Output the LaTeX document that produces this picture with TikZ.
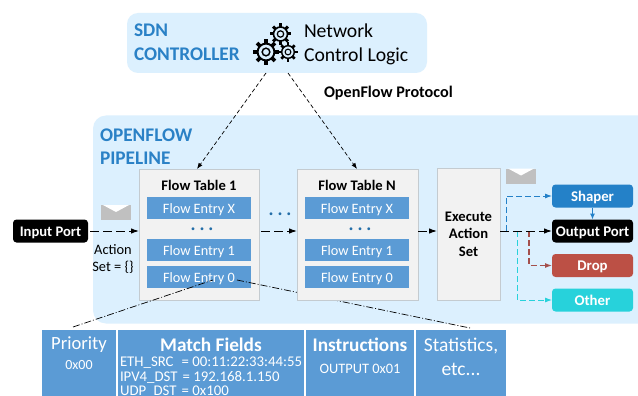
\documentclass[tikz,border=0pt]{standalone}
\usepackage{fontspec}
\setmainfont{Carlito}
\usetikzlibrary{arrows.meta}
\definecolor{panel}{HTML}{DCF0FE}
\definecolor{headblue}{HTML}{2A81C6}
\definecolor{entry}{HTML}{5B9BD5}
\definecolor{tablefill}{HTML}{F2F2F2}
\definecolor{tableline}{HTML}{C4CBD0}
\definecolor{shaperc}{HTML}{2481C8}
\definecolor{dropc}{HTML}{BC5045}
\definecolor{otherc}{HTML}{27D2DB}
\definecolor{dropline}{HTML}{A4504C}
\definecolor{envgray}{HTML}{C0C0C0}
\newcommand{\fs}[1]{\fontsize{#1}{#1}\selectfont}
\newcommand{\gearicon}[3]{%
  \foreach \a in {0,45,...,315} \draw[black,line width=#3*0.3] (#1,#2) ++(\a:#3*0.7) -- ++(\a:#3*0.36);
  \draw[black,line width=#3*0.16,fill=panel] (#1,#2) circle ({#3*0.7});
  \draw[black,line width=#3*0.12] (#1,#2) circle ({#3*0.32});
}
\tikzset{
  every node/.style={inner sep=0,outer sep=0},
  flowtable/.style={draw=tableline,fill=tablefill,line width=1pt},
  entrybox/.style={fill=entry,text=white,minimum width=104,minimum height=22,text height=10,text depth=0,font=\fs{14.3}},
  portbox/.style={rounded corners=3.5,minimum width=81,minimum height=23,text height=10,text depth=0,text=white,font=\fs{14.8}\bfseries},
  cellbox/.style={fill=entry,text=white,minimum height=70},
  conn/.style={line width=1pt,dash pattern=on 9pt off 4pt,-{Latex[length=8pt,width=5.5pt]}},
  thin conn/.style={line width=0.7pt,dash pattern=on 4pt off 2.5pt,-{Latex[length=6pt,width=4.5pt]}},
  dotline/.style={line width=0.7pt,dash pattern=on 7pt off 2pt on 1pt off 2pt},
  dots/.style={text=headblue!85!black,font=\fs{8}},
  envelope/.style={fill=envgray,minimum width=30,minimum height=15},
}
\begin{document}
\begin{tikzpicture}[x=1pt,y=-1pt]
\useasboundingbox (0,0) rectangle (638,396);
\clip (0,0) rectangle (638,396);
\fill[white] (0,0) rectangle (638,396);
% controller
\node[fill=panel,rounded corners=11,minimum width=300,minimum height=60] (sdn) at (277,43) {};
\node[anchor=west,align=left,text=headblue,font=\fontsize{19.3}{24}\selectfont\bfseries] (sdnlabel) at (134,42.5) {SDN\\CONTROLLER};
\node[anchor=west,align=left,font=\fontsize{19.7}{23.5}\selectfont] (logic) at (304,44.5) {Network\\Control Logic};
\gearicon{266}{52}{12}
\gearicon{280.5}{34}{10}
\gearicon{288}{52}{9}
\node[anchor=west,font=\fs{16.2}\bfseries] (ofp) at (324,93.5) {OpenFlow Protocol};
% pipeline
\node[fill=panel,rounded corners=13,minimum width=560,minimum height=208] (pipe) at (373,219.5) {};
\node[anchor=west,align=left,text=headblue,font=\fontsize{19.3}{22.5}\selectfont\bfseries] (pipelabel) at (100,146.5) {OPENFLOW\\PIPELINE};
% table 1
\node[flowtable,minimum width=120,minimum height=131] (t1) at (199,234.5) {};
\node[font=\fs{14.6}\bfseries] (t1title) at (199,185) {Flow Table 1};
\node[entrybox] (t1x) at (199,208) {Flow Entry X};
\node[dots] (t1d) at (202,230) {•\hspace{5pt}•\hspace{5pt}•};
\node[entrybox] (t11) at (199,250) {Flow Entry 1};
\node[entrybox] (t10) at (199,277) {Flow Entry 0};
% entry detail cells and fan-out lines
\node[cellbox,minimum width=74,anchor=north west] (prio) at (42,330) {};
\node[cellbox,minimum width=186,anchor=north west] (match) at (118,330) {};
\node[cellbox,minimum width=108,anchor=north west] (instr) at (306,330) {};
\node[cellbox,minimum width=90,anchor=north west] (stats) at (416,330) {};
\coordinate (fanA) at (73,327);
\coordinate (fanB) at (213,280);
\coordinate (fanC) at (237,280);
\coordinate (fanD) at (470,328);
\draw[dotline] (fanA) -- (fanB);
\draw[dotline] (fanC) -- (fanD);
% table N
\node[flowtable,minimum width=121,minimum height=131] (tn) at (357.5,234.5) {};
\node[font=\fs{14.6}\bfseries] (tntitle) at (357,185) {Flow Table N};
\node[entrybox] (tnx) at (357,208) {Flow Entry X};
\node[dots] (tnd) at (360,230) {•\hspace{5pt}•\hspace{5pt}•};
\node[entrybox] (tn1) at (357,250) {Flow Entry 1};
\node[entrybox] (tn0) at (357,277) {Flow Entry 0};
\node[dots] (between) at (280,215) {•\hspace{5pt}•\hspace{5pt}•};
% execute
\node[flowtable,minimum width=63,minimum height=132,align=center,font=\fontsize{14.6}{17.5}\selectfont\bfseries] (exec) at (468.5,234) {Execute\\Action\\Set};
% ports
\node[portbox,fill=black,minimum width=75,font=\fs{14.6}\bfseries] (in) at (50.5,231) {Input Port};
\node[portbox,fill=shaperc] (shaper) at (592.5,196) {Shaper};
\node[portbox,fill=black] (out) at (592.5,231) {Output Port};
\node[portbox,fill=dropc] (drop) at (592.5,265.5) {Drop};
\node[portbox,fill=otherc] (other) at (592.5,300) {Other};
\node[align=center,font=\fontsize{14.4}{17.5}\selectfont] (aset) at (113,259) {Action\\Set = \{\}};
% envelopes
\node[envelope] (env1) at (116,212.5) {};
\fill[white] (env1.north west) ++(2,0) -- ++(13,7) -- ([xshift=-2pt]env1.north east) -- cycle;
\node[envelope] (env2) at (521,176) {};
\fill[white] (env2.north west) ++(2,0) -- ++(13,7) -- ([xshift=-2pt]env2.north east) -- cycle;
% connectors
\coordinate (sdnL) at (266,73);
\coordinate (sdnR) at (288,73);
\coordinate (t1top) at (197,169);
\coordinate (tntop) at (357,169);
\draw[thin conn] (sdnL) -- (t1top);
\draw[thin conn] (sdnR) -- (tntop);
\draw[conn] (in.east) ++(2,0) -- (t1.west |- in.east);
\coordinate (t1out) at (t1.east |- in.east);
\draw[conn] (t1out) ++(2,0) -- (tn.west |- in.east);
\draw[conn] (tn.east |- in.east) -- (exec.west |- in.east);
\coordinate (xout) at (exec.east |- in.east);
\coordinate (brS) at (506,231);
\coordinate (brO) at (517,231);
\coordinate (brD) at (529,231);
\draw[shaperc,line width=0.9pt,dash pattern=on 6pt off 3pt,-{Latex[length=7pt,width=5pt]}] (brS) |- (shaper.west);
\draw[otherc,line width=0.9pt,dash pattern=on 6pt off 3pt,-{Latex[length=7pt,width=5pt]}] (brO) |- (other.west);
\draw[dropline,line width=1.1pt,dash pattern=on 6pt off 3pt,-{Latex[length=7pt,width=5pt]}] (brD) |- (drop.west);
\draw[conn] (xout) -- (out.west);
\draw[shaperc,line width=1pt,-{Latex[length=6pt,width=5pt]}] (shaper.south) -- (out.north);
% cell texts
\node[text=white,font=\fs{18.6}] (ptitle) at (79,344.5) {Priority};
\node[text=white,font=\fs{14}] (pval) at (79,365) {0x00};
\node[text=white,font=\fs{19.3}\bfseries] (mtitle) at (211,344.5) {Match Fields};
\node[text=white,font=\fs{14.8},anchor=west] (m1) at (120,362.5) {ETH\_SRC\hspace{8pt}= 00:11:22:33:44:55};
\node[text=white,font=\fs{14.8},anchor=west] (m2) at (120,377) {IPV4\_DST\hspace{5pt}= 192.168.1.150};
\node[text=white,font=\fs{14.8},anchor=west] (m3) at (120,391.5) {UDP\_DST\hspace{5pt}= 0x100};
\node[text=white,font=\fs{19.3}\bfseries] (ititle) at (360,344.5) {Instructions};
\node[text=white,font=\fs{14.4}] (ival) at (360,369) {OUTPUT 0x01};
\node[text=white,align=center,font=\fontsize{19.5}{24}\selectfont] (stext) at (461,356.5) {Statistics,\\etc...};
\end{tikzpicture}
\end{document}
